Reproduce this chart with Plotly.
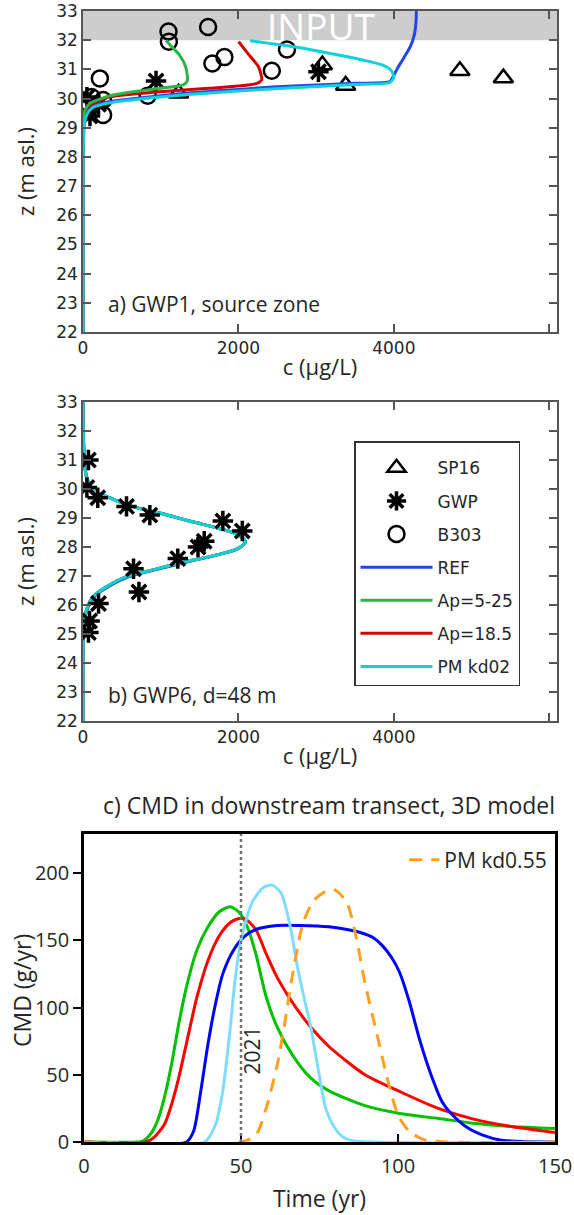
import plotly.graph_objects as go

# ---------- panel a) GWP1, source zone ----------
sp16_c = [4850, 5410, 3380, 3080, 1230]
sp16_z = [30.95, 30.70, 30.45, 31.15, 30.18]

gwp_a_c = [3030, 940, 50, 90, 200]
gwp_a_z = [30.92, 30.60, 30.05, 29.40, 29.80]

b303_c = [1100, 1105, 1610, 1665, 1820, 2430, 2625, 217, 259, 259, 833, 110]
b303_z = [32.30, 31.95, 32.45, 31.20, 31.42, 30.95, 31.68, 30.69, 29.95, 29.44, 30.10, 30.05]

ref_a_c = [4290, 4285, 4265, 4215, 4130, 4050, 3990, 3950, 3500, 2700, 1400, 560, 250, 130, 60, 20, 5, 0, 0]
ref_a_z = [33.0, 32.6, 32.2, 31.8, 31.4, 31.05, 30.75, 30.58, 30.52, 30.43, 30.20, 29.97, 29.85, 29.75, 29.55, 29.2, 28.5, 27.0, 22.0]

ap525_a_c = [1067, 1150, 1240, 1320, 1344, 1290, 983, 387, 89, 25, 6, 0, 0]
ap525_a_z = [32.0, 31.75, 31.5, 31.1, 30.62, 30.47, 30.35, 30.12, 29.84, 29.6, 29.3, 28.5, 22.0]

ap185_a_c = [2003, 2120, 2258, 2300, 2216, 1620, 983, 345, 89, 25, 5, 0, 0]
ap185_a_z = [31.95, 31.55, 31.09, 30.64, 30.50, 30.35, 30.23, 30.06, 29.78, 29.55, 29.1, 28.0, 22.0]

pm02_a_c = [2150, 2700, 3150, 3600, 3850, 3970, 4000, 3950, 3500, 2700, 1400, 560, 250, 120, 50, 15, 3, 0, 0]
pm02_a_z = [31.98, 31.78, 31.56, 31.32, 31.15, 30.95, 30.72, 30.55, 30.48, 30.37, 30.15, 29.93, 29.80, 29.68, 29.45, 29.1, 28.3, 27.0, 22.0]

# ---------- panel b) GWP6, d=48 m ----------
gwp_b_c = [70, 50, 190, 560, 860, 1800, 2050, 1560, 1480, 1220, 650, 720, 200, 85, 70]
gwp_b_z = [31.0, 30.05, 29.7, 29.4, 29.1, 28.9, 28.55, 28.2, 28.0, 27.6, 27.25, 26.45, 26.05, 25.45, 25.05]

prof_b_z = [33.0, 32.0, 31.5, 30.9, 30.4, 29.97, 29.69, 29.39, 29.17, 28.87, 28.64, 28.41, 28.18,
            27.96, 27.72, 27.49, 27.21, 26.98, 26.63, 26.29, 25.85, 25.4, 24.8, 22.0]
ref_b_c = [3, 5, 10, 22, 50, 135, 350, 645, 985, 1410, 1750, 2005, 2090,
           2010, 1725, 1350, 930, 590, 325, 145, 55, 18, 4, 0]
ap525_b_c = [0, 2, 8, 20, 47, 131, 345, 640, 983, 1408, 1748, 2003, 2088,
             2003, 1706, 1323, 897, 557, 302, 131, 47, 15, 3, 0]
ap185_b_c = [0, 2, 8, 20, 47, 131, 345, 640, 983, 1408, 1748, 2003, 2088,
             2003, 1706, 1323, 897, 557, 302, 131, 47, 15, 3, 0]
pm02_b_c = [0, 2, 8, 20, 47, 131, 345, 640, 983, 1408, 1748, 2003, 2088,
            2003, 1706, 1323, 897, 557, 302, 131, 47, 15, 3, 0]

# ---------- panel c) CMD in downstream transect ----------
green_t = [0, 17, 18.6, 20.9, 23.3, 25.6, 27.9, 30.2, 32.6, 36, 39.5, 43, 46.5, 48.8, 50, 52, 54.7, 58, 61.6, 66.3, 72, 78, 89.5, 101, 112.8, 124, 136, 150]
green_v = [0, 0, 0.5, 5, 15, 33, 58, 88, 115, 143, 160, 171, 175, 172, 169, 160, 140, 108, 85, 65, 48, 38, 27, 21, 17.5, 14, 11.5, 10]

red_t = [0, 19.8, 22.1, 25.6, 27.9, 30.2, 32.6, 36, 39.5, 43, 46.5, 49, 51.2, 54.7, 58, 61.6, 66.3, 72, 78, 89.5, 101, 112.8, 116.6, 124, 136, 150]
red_v = [0, 0, 3, 13, 28, 48, 73, 108, 135, 153, 163, 166, 166, 158, 140, 122, 104, 86, 71, 50, 37, 25, 22, 17, 11.5, 7]

blue_t = [0, 32.6, 34.9, 37.2, 39.5, 41.9, 44.2, 47.7, 51.2, 54.7, 61.6, 68.6, 78, 85, 89, 92, 95, 98, 100.5, 103.5, 107, 110.5, 114, 116.6, 121.9, 127.2, 132.5, 140, 150]
blue_v = [0, 0, 8, 38, 73, 103, 125, 143, 153, 158, 161, 161, 160, 157.5, 155, 152, 146, 137, 126, 105, 75, 50, 30, 22, 11, 5, 1.5, 0.3, 0]

lblue_t = [0, 38.4, 41.9, 44.2, 46.5, 48, 50, 53.5, 57, 59.9, 62.8, 65.7, 68, 70, 72, 74, 77, 80, 83, 87, 150]
lblue_v = [0, 0, 13, 38, 83, 118, 150, 178, 189, 191, 185, 160, 130, 108, 88, 62, 25, 10, 3, 0.5, 0]

orange_t = [0, 50, 54.7, 58, 61.6, 63.9, 66.3, 69.8, 73.3, 78, 80.2, 83.7, 86.6, 89.5, 93, 96.5, 100, 103.5, 108, 115, 150]
orange_v = [0, 0, 5, 25, 58, 88, 123, 163, 180, 187.5, 187, 178, 153, 118, 83, 48, 20, 8, 2, 0, 0]

TICKFONT = dict(family="DejaVu Sans", size=17, color="#262626")
TITLEFONT = dict(family="Open Sans", size=22, color="#262626")
BOXCOL = "#555555"

fig = go.Figure()

# panel a markers (these carry the legend)
fig.add_trace(go.Scatter(x=sp16_c, y=sp16_z, mode="markers", name="SP16",
                         legendgroup="g1", legendrank=1,
                         marker=dict(symbol="triangle-up-open", size=17, color="black", line=dict(width=2.5)),
                         xaxis="x", yaxis="y"))
fig.add_trace(go.Scatter(x=gwp_a_c, y=gwp_a_z, mode="markers", name="GWP",
                         legendgroup="g2", legendrank=2,
                         marker=dict(symbol="asterisk-open", size=17, color="black", line=dict(width=3.5, color="black")),
                         xaxis="x", yaxis="y"))
fig.add_trace(go.Scatter(x=b303_c, y=b303_z, mode="markers", name="B303",
                         legendgroup="g3", legendrank=3,
                         marker=dict(symbol="circle-open", size=16, color="black", line=dict(width=2.5)),
                         xaxis="x", yaxis="y"))

# panel a curves
fig.add_trace(go.Scatter(x=ref_a_c, y=ref_a_z, mode="lines", name="REF", legendgroup="g4", legendrank=4,
                         line=dict(color="#2346e8", width=3, shape="spline", smoothing=0.6), xaxis="x", yaxis="y"))
fig.add_trace(go.Scatter(x=ap185_a_c, y=ap185_a_z, mode="lines", name="Ap=18.5", legendgroup="g6", legendrank=6,
                         line=dict(color="#d40000", width=3, shape="spline", smoothing=0.6), xaxis="x", yaxis="y"))
fig.add_trace(go.Scatter(x=ap525_a_c, y=ap525_a_z, mode="lines", name="Ap=5-25", legendgroup="g5", legendrank=5,
                         line=dict(color="#2fb34a", width=3, shape="spline", smoothing=0.6), xaxis="x", yaxis="y"))
fig.add_trace(go.Scatter(x=pm02_a_c, y=pm02_a_z, mode="lines", name="PM kd02", legendgroup="g7", legendrank=7,
                         line=dict(color="#10d0d8", width=3, shape="spline", smoothing=0.6), xaxis="x", yaxis="y"))

# panel b
fig.add_trace(go.Scatter(x=ref_b_c, y=prof_b_z, mode="lines", showlegend=False,
                         line=dict(color="#2346e8", width=3, shape="spline"), xaxis="x2", yaxis="y2"))
fig.add_trace(go.Scatter(x=ap185_b_c, y=prof_b_z, mode="lines", showlegend=False,
                         line=dict(color="#d40000", width=3, shape="spline"), xaxis="x2", yaxis="y2"))
fig.add_trace(go.Scatter(x=ap525_b_c, y=prof_b_z, mode="lines", showlegend=False,
                         line=dict(color="#2fb34a", width=3, shape="spline"), xaxis="x2", yaxis="y2"))
fig.add_trace(go.Scatter(x=pm02_b_c, y=prof_b_z, mode="lines", showlegend=False,
                         line=dict(color="#10d0d8", width=3, shape="spline"), xaxis="x2", yaxis="y2"))
fig.add_trace(go.Scatter(x=gwp_b_c, y=gwp_b_z, mode="markers", showlegend=False,
                         marker=dict(symbol="asterisk-open", size=17, color="black", line=dict(width=3.5, color="black")),
                         xaxis="x2", yaxis="y2"))

# panel c
for t, v, col in [(green_t, green_v, "#00c000"), (red_t, red_v, "#ff0000"),
                  (blue_t, blue_v, "#0000ff"), (lblue_t, lblue_v, "#80dcff")]:
    fig.add_trace(go.Scatter(x=t, y=v, mode="lines", showlegend=False,
                             line=dict(color=col, width=3, shape="spline", smoothing=0.7), xaxis="x3", yaxis="y3"))
fig.add_trace(go.Scatter(x=orange_t, y=orange_v, mode="lines", name="PM kd0.55", legend="legend2",
                         line=dict(color="#ffa020", width=3, dash="13px,9px", shape="spline", smoothing=0.7),
                         xaxis="x3", yaxis="y3"))

# layout
box_axis = dict(showline=True, linecolor=BOXCOL, linewidth=1.5, mirror="ticks", ticks="inside",
                ticklen=8, tickwidth=1.5, tickcolor=BOXCOL, showgrid=False, zeroline=False,
                tickfont=TICKFONT, title_font=TITLEFONT, automargin=False)

ya = (1142 - 332) / 1131
yb_top = (1142 - 402) / 1131
yb_bot = (1142 - 721) / 1131
yc_top = (1142 - 834) / 1131

fig.update_layout(
    width=574, height=1215,
    margin=dict(l=83, r=17, t=11, b=73),
    plot_bgcolor="white", paper_bgcolor="white",
    xaxis=dict(box_axis, domain=[0, 1], anchor="y", range=[0, 6100],
               tickvals=[0, 2000, 4000, 6000], ticktext=["0", "2000", "4000", ""],
               title=dict(text="c (µg/L)", standoff=2)),
    yaxis=dict(box_axis, domain=[ya, 1], anchor="x", range=[22, 33], dtick=1,
               title=dict(text="z (m asl.)", standoff=16)),
    xaxis2=dict(box_axis, domain=[0, 1], anchor="y2", range=[0, 6100],
                tickvals=[0, 2000, 4000, 6000], ticktext=["0", "2000", "4000", ""],
                title=dict(text="c (µg/L)", standoff=2)),
    yaxis2=dict(box_axis, domain=[yb_bot, yb_top], anchor="x2", range=[22, 33], dtick=1,
                title=dict(text="z (m asl.)", standoff=16)),
    xaxis3=dict(domain=[0.002, 0.996], anchor="y3", range=[0, 150], tickvals=[0, 50, 100, 150],
                showline=True, linecolor="black", linewidth=2.5, mirror=True,
                ticks="inside", ticklen=8, tickwidth=2, tickcolor="black",
                showgrid=False, zeroline=False, automargin=False, ticklabelstandoff=4,
                tickfont=dict(family="Open Sans", size=20, color="#262626"),
                title=dict(text="Time (yr)", font=dict(family="Open Sans", size=23, color="#262626"), standoff=14)),
    yaxis3=dict(domain=[0, yc_top], anchor="x3", range=[0, 229], tickvals=[0, 50, 100, 150, 200],
                showline=True, linecolor="black", linewidth=2.5, mirror=True,
                ticks="outside", ticklen=8, tickwidth=2, tickcolor="black",
                showgrid=False, zeroline=False, automargin=False,
                tickfont=dict(family="Open Sans", size=20, color="#262626")),
    legend=dict(x=(354 - 83) / 474, y=(1142 - 441) / 1131, xanchor="left", yanchor="top",
                bordercolor="#333333", borderwidth=1.5, bgcolor="white",
                font=dict(family="DejaVu Sans", size=17, color="#262626"),
                title=dict(text=" ", font=dict(size=6)),
                traceorder="grouped", tracegroupgap=8, itemwidth=72,
                entrywidth=96, entrywidthmode="pixels"),
    legend2=dict(x=0.99, y=yc_top - 0.005, xanchor="right", yanchor="top",
                 bgcolor="rgba(0,0,0,0)", borderwidth=0,
                 font=dict(family="Open Sans", size=21, color="#262626")),
    shapes=[
        dict(type="rect", xref="x domain", yref="y", x0=0, x1=1, y0=32, y1=33,
             fillcolor="#cdcdcd", line=dict(width=0), layer="below"),
        dict(type="line", xref="x3", yref="y3 domain", x0=50, x1=50, y0=0, y1=1,
             line=dict(color="#707070", width=2.5, dash="dot")),
    ],
    annotations=[
        dict(text="INPUT", xref="x", yref="y", x=3060, y=32.5, showarrow=False,
             font=dict(family="Open Sans", size=37, color="white")),
        dict(text="a) GWP1, source zone", xref="x", yref="y", x=290, y=22.95, xanchor="left",
             showarrow=False, font=dict(family="Open Sans", size=21, color="#262626")),
        dict(text="b) GWP6, d=48 m", xref="x2", yref="y2", x=290, y=22.9, xanchor="left",
             showarrow=False, font=dict(family="Open Sans", size=21, color="#262626")),
        dict(text="c) CMD in downstream transect, 3D model", xref="paper", yref="paper",
             x=1.0, y=(1142 - 805) / 1131, xanchor="right", yanchor="middle",
             showarrow=False, font=dict(family="Open Sans", size=23, color="#262626")),
        dict(text="CMD (g/yr)", xref="paper", yref="y3", x=(22 - 83) / 474, y=113,
             textangle=-90, showarrow=False, xanchor="center",
             font=dict(family="Open Sans", size=23, color="#262626")),
        dict(text="2021", xref="x3", yref="y3", x=53.5, y=68, textangle=-90, showarrow=False,
             font=dict(family="Open Sans", size=21, color="#262626")),
    ],
)

# drop the default page margin so the figure sits at the window's top-left corner
fig.write_html("out.html", config={"displayModeBar": False},
               post_script="document.body.style.margin='0';")
